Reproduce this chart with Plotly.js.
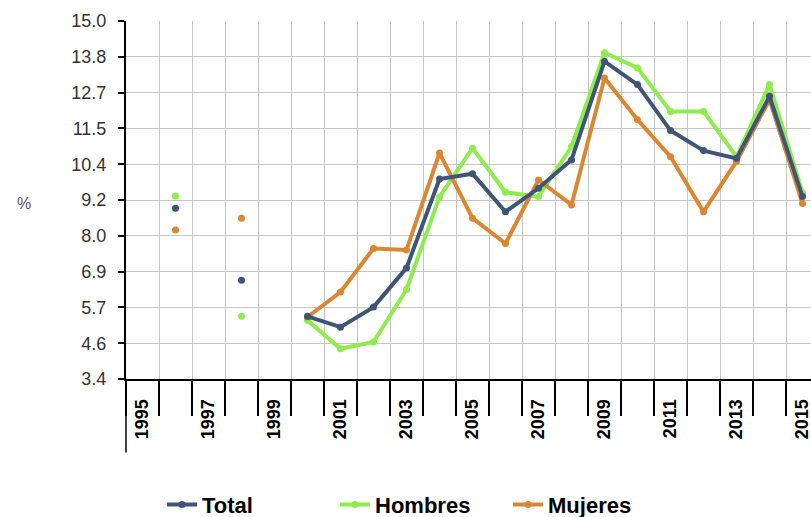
<!DOCTYPE html>
<html>
<head>
<meta charset="utf-8">
<script src="https://cdn.plot.ly/plotly-3.0.1.min.js"></script>
<style>
html, body { margin: 0; padding: 0; overflow: hidden; background: #fff; }
#chart { width: 819px; height: 517px; }
</style>
</head>
<body>
<div id="chart"></div>
<script>
const years = ['1995','1996','1997','1998','1999','2000','2001','2002','2003','2004','2005','2006','2007','2008','2009','2010','2011','2012','2013','2014','2015'];
const yearLabels = ['1995','','1997','','1999','','2001','','2003','','2005','','2007','','2009','','2011','','2013','','2015'];
const total    = [null, 8.93, null, 6.60, null, 5.43, 5.08, 5.73, 7.00, 9.88, 10.05, 8.82, 9.58, 10.50, 13.69, 12.94, 11.45, 10.80, 10.55, 12.56, 9.31];
const hombres  = [null, 9.33, null, 5.43, null, 5.30, 4.38, 4.60, 6.30, 9.30, 10.88, 9.45, 9.31, 10.93, 13.97, 13.48, 12.07, 12.07, 10.60, 12.94, 9.43];
const mujeres  = [null, 8.23, null, 8.61, null, 5.41, 6.22, 7.63, 7.58, 10.72, 8.61, 7.79, 9.85, 9.04, 13.15, 11.80, 10.60, 8.82, 10.45, 12.45, 9.09];

const seriesNames = ['Total', 'Hombres', 'Mujeres'];
const seriesColors = ['#3f5577', '#8fec4f', '#dc8632'];

function mk(name, vals, color, rank) {
  return {
    type: 'scatter', mode: 'lines+markers', name: name,
    x: years, y: vals, connectgaps: false,
    line: { color: color, width: 4 },
    marker: { color: color, size: 7 },
    legendrank: rank
  };
}

const data = [
  mk(seriesNames[1], hombres, seriesColors[1], 2),
  mk(seriesNames[2], mujeres, seriesColors[2], 3),
  mk(seriesNames[0], total, seriesColors[0], 1)
];

const layout = {
  width: 819, height: 517,
  margin: { l: 126, r: 0, t: 21, b: 138, autoexpand: false },
  paper_bgcolor: '#fff', plot_bgcolor: '#fff',
  font: { family: 'Liberation Sans, Arial, sans-serif', color: '#000' },
  showlegend: true,
  legend: {
    orientation: 'h', x: 0.052, xanchor: 'left',
    yref: 'container', y: 0.024, yanchor: 'middle',
    font: { size: 22, color: '#000', weight: 'bold' },
    entrywidth: 128, entrywidthmode: 'pixels',
    traceorder: 'normal', bgcolor: 'rgba(0,0,0,0)'
  },
  xaxis: {
    type: 'category', categoryorder: 'array', categoryarray: years,
    range: [-0.5, 20.5], autorange: false,
    tickvals: years, ticktext: yearLabels,
    tickson: 'boundaries', ticks: 'outside', ticklen: 35, tickwidth: 1.5, tickcolor: '#000',
    tickangle: -90, ticklabelstandoff: 11,
    tickfont: { size: 18, color: '#000', weight: 'bold' },
    showgrid: true, gridcolor: '#c6c6c6', gridwidth: 1,
    showline: true, linecolor: '#000', linewidth: 2,
    zeroline: false, fixedrange: true
  },
  yaxis: {
    range: [3.4, 15.0], autorange: false, tick0: 3.4, dtick: 1.16, tickformat: '.1f',
    ticks: 'outside', ticklen: 6, tickwidth: 2, tickcolor: '#000',
    ticklabelstandoff: 8,
    tickfont: { size: 18, color: '#333' },
    showgrid: true, gridcolor: '#c6c6c6', gridwidth: 1,
    showline: true, linecolor: '#000', linewidth: 2,
    zeroline: false, fixedrange: true
  },
  annotations: [{
    text: '%', xref: 'paper', yref: 'paper', x: -0.16, y: 0.49,
    showarrow: false, font: { size: 16, color: '#555' }
  }],
  shapes: [{
    type: 'line', xref: 'paper', yref: 'paper', x0: 0, x1: 0, y0: 0, y1: -0.205,
    line: { color: '#000', width: 1.5 }
  }]
};

Plotly.newPlot('chart', data, layout, { displayModeBar: false, staticPlot: true });
</script>
</body>
</html>
